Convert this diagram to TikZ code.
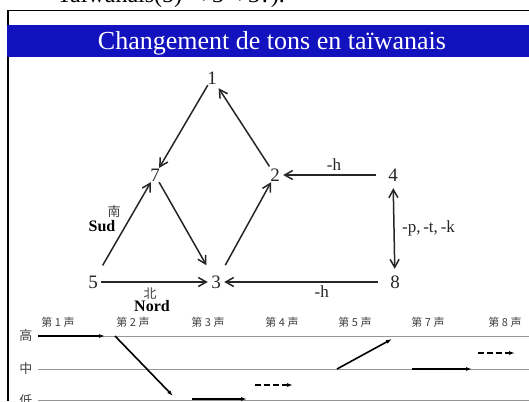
\documentclass[tikz,border=0pt]{standalone}
\usepackage{fontspec}
\setmainfont{Liberation Serif}
\newfontfamily\cjk{Noto Sans CJK SC}
\usetikzlibrary{arrows.meta}
\definecolor{bannerblue}{RGB}{18,18,190}
\definecolor{ruleGray}{RGB}{150,150,150}

\tikzset{
  tone/.style={circle, inner sep=0pt, minimum size=16pt,
    font=\fontsize{19}{19}\selectfont, text=black!85},
  sandhi/.style={-{Straight Barb[length=8pt,width=9pt,line width=1.5pt]},
    line width=1.5pt, draw=black!85},
  ending/.style={font=\fontsize{17}{17}\selectfont, text=black!85},
  region/.style={font=\bfseries\fontsize{16}{16}\selectfont},
  hanzi/.style={font=\cjk\fontsize{13}{13}\selectfont, text=black!75},
  contour/.style={-{Latex[length=6pt,width=4pt]}, line width=1.6pt}
}

\begin{document}
\begin{tikzpicture}[x=1pt, y=-1pt]
  \useasboundingbox (0, 0) rectangle (529, 401);

  \begin{scope}
    \clip (0, 0) rectangle (529, 9);
    \node[anchor=base west, inner sep=0pt, font=\fontsize{24}{24}\selectfont]
      at (57, 3) {Taiwanais(5) →3→3?).};
  \end{scope}
  \draw[line width=0.8pt] (8, 10) -- (529, 10);
  \draw[line width=1.5pt] (8, 10) -- (8, 401);
  \fill[bannerblue] (7, 25) rectangle (529, 57);
  \node[anchor=base, text=white, font=\fontsize{26}{26}\selectfont]
    (title) at (272, 50) {Changement de tons en taïwanais};

  \node[tone] (t1) at (212, 78) {1};
  \node[tone] (t7) at (155, 175) {7};
  \node[tone] (t2) at (275, 175) {2};
  \node[tone] (t4) at (393, 175) {4};
  \node[tone] (t5) at (93, 282) {5};
  \node[tone] (t3) at (216, 282) {3};
  \node[tone] (t8) at (395, 282) {8};

  \draw[sandhi] (t1) -- (t7);
  \draw[sandhi, shorten <=2pt, shorten >=4pt] (t2) -- (t1);
  \draw[sandhi, shorten >=11pt] (t7) -- (t3);
  \draw[sandhi, shorten <=11pt] (t3) -- (t2);
  \draw[sandhi, shorten <=11pt] (t5) -- (t7);
  \draw[sandhi] (t5) -- (t3);
  \draw[sandhi, shorten <=9pt] (t4) -- (t2)
    node[ending, pos=0.5, above=0pt] (hup) {-h};
  \draw[sandhi, shorten <=9pt] (t8) -- (t3)
    node[ending, pos=0.4, below=0pt] (hdown) {-h};
  \draw[sandhi, {Straight Barb[length=8pt,width=9pt,line width=1.5pt]}-{Straight Barb[length=8pt,width=9pt,line width=1.5pt]},
    shorten <=5pt, shorten >=5pt] (t4) -- (t8)
    node[ending, midway, right=4pt] (ptk) {-p,\,-t,\,-k};

  \node[region] (sud) at (102, 226) {Sud};
  \node[hanzi] (nan) at (114, 212) {南};
  \node[hanzi] (bei) at (150, 294) {北};
  \node[region] (nord) at (152, 306) {Nord};

  \foreach \x/\n in {58/1, 133/2, 208/3, 282/4, 355/5, 428/7, 505/8}
    \node[hanzi, font=\cjk\fontsize{11}{11}\selectfont] (sheng\n) at (\x, 322) {第 \n{} 声};

  \node[hanzi] (gao) at (26, 336) {高};
  \node[hanzi] (zhong) at (26, 369) {中};
  \node[hanzi] (di) at (26, 401) {低};
  \foreach \y in {336, 369, 400}
    \draw[ruleGray, line width=0.8pt] (38, \y) -- (529, \y);

  \draw[contour] (38, 336) -- (105, 336);
  \draw[contour] (115, 336) -- (173, 396);
  \draw[contour] (192, 399) -- (247, 399);
  \draw[contour, dash pattern=on 6pt off 3pt] (255, 385) -- (293, 385);
  \draw[contour] (337, 369) -- (392, 339);
  \draw[contour] (412, 369) -- (472, 369);
  \draw[contour, dash pattern=on 6pt off 3pt] (478, 353) -- (515, 353);
\end{tikzpicture}
\end{document}
